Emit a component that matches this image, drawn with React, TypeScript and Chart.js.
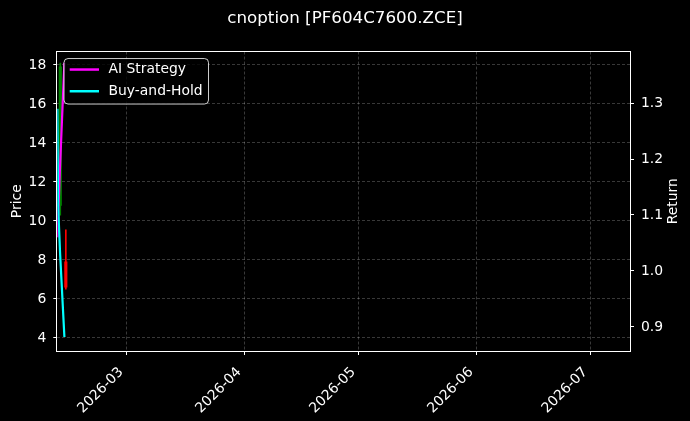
import React, { useEffect, useRef } from 'react';
import { Chart, registerables } from 'chart.js';

Chart.register(...registerables);

// days since 2026-01-01 (UTC), used as the x value
const BASE = Date.UTC(2026, 0, 1);
const toDay = (s: string) => (Date.parse(s + 'Z') - BASE) / 86400000;

const chartTitle = 'cnoption [PF604C7600.ZCE]';

// x axis
const xLimits = ['2026-02-10T18:14', '2026-07-11T06:14'];
const monthTickDates = ['2026-03-01T00:00', '2026-04-01T00:00', '2026-05-01T00:00', '2026-06-01T00:00', '2026-07-01T00:00'];
const monthTickLabels = ['2026-03', '2026-04', '2026-05', '2026-06', '2026-07'];

// left axis (price)
const priceLimits = [3.33, 18.69];
const priceTicks = [4, 6, 8, 10, 12, 14, 16, 18];

// right axis (return)
const returnLimits = [0.857, 1.392];
const returnTicks = [0.9, 1.0, 1.1, 1.2, 1.3];

// candles
const candleTimes = ['2026-02-11T13:00', '2026-02-13T00:00'];
const candleOpen = [10.8, 7.9];
const candleHigh = [18.1, 9.55];
const candleLow = [10.3, 6.5];
const candleClose = [17.9, 6.6];

// return curves
const seriesNames = ['AI Strategy', 'Buy-and-Hold'];
const seriesColors = ['#ff00ff', '#00ffff'];
const aiTimes = ['2026-02-10T19:00', '2026-02-11T10:00', '2026-02-12T02:00', '2026-02-12T15:00'];
const aiReturn = [1.06, 1.175, 1.285, 1.372];
const bhTimes = ['2026-02-10T19:00', '2026-02-10T23:00', '2026-02-11T12:00', '2026-02-12T15:00'];
const bhReturn = [1.29, 1.12, 1.03, 0.882];

const FONT = 'DejaVu Sans';

const overlayPlugin = {
  id: 'overlay',
  afterDraw(chart: any) {
    const { ctx, chartArea: ca } = chart;
    ctx.save();

    // spines
    const l = Math.round(ca.left) - 0.5;
    const t = Math.round(ca.top) - 0.5;
    const r = Math.round(ca.right) + 0.5;
    const b = Math.round(ca.bottom) + 0.5;
    ctx.strokeStyle = '#ffffff';
    ctx.lineWidth = 1;
    ctx.strokeRect(l, t, r - l, b - t);

    // axis titles
    ctx.fillStyle = '#ffffff';
    ctx.font = `13.9px "${FONT}"`;
    ctx.textAlign = 'center';
    ctx.textBaseline = 'middle';
    const midY = (ca.top + ca.bottom) / 2;
    ctx.save();
    ctx.translate(17, midY);
    ctx.rotate(-Math.PI / 2);
    ctx.fillText('Price', 0, 0);
    ctx.restore();
    ctx.save();
    ctx.translate(673.5, midY);
    ctx.rotate(-Math.PI / 2);
    ctx.fillText('Return', 0, 0);
    ctx.restore();

    // legend
    const lx = ca.left + 6.7;
    const ly = ca.top + 7;
    const lw = 144.5;
    const lh = 45.5;
    ctx.beginPath();
    ctx.roundRect(lx, ly, lw, lh, 4);
    ctx.fillStyle = 'rgba(0,0,0,0.8)';
    ctx.fill();
    ctx.strokeStyle = 'rgba(255,255,255,0.8)';
    ctx.lineWidth = 1;
    ctx.stroke();
    seriesNames.forEach((name, i) => {
      const y = ly + 11 + i * 21.7;
      ctx.strokeStyle = seriesColors[i];
      ctx.lineWidth = 2.5;
      ctx.beginPath();
      ctx.moveTo(lx + 5.7, y);
      ctx.lineTo(lx + 35, y);
      ctx.stroke();
      ctx.fillStyle = '#ffffff';
      ctx.textAlign = 'left';
      ctx.fillText(name, lx + 44.5, y);
    });

    ctx.restore();
  },
};

export default function App() {
  const canvasRef = useRef<HTMLCanvasElement>(null);
  const chartRef = useRef<Chart | null>(null);

  useEffect(() => {
    if (!canvasRef.current) return;
    if (chartRef.current) chartRef.current.destroy();
    document.body.style.margin = '0';
    document.body.style.background = '#000';

    const up = candleClose.map((c, i) => c >= candleOpen[i]);
    const candleColors = up.map(u => (u ? '#008000' : '#ff0000'));

    const tickFont = { family: FONT, size: 13.9 };

    chartRef.current = new Chart(canvasRef.current, {
      type: 'line',
      data: {
        datasets: [
          {
            label: seriesNames[0],
            type: 'line',
            data: aiTimes.map((t, i) => ({ x: toDay(t), y: aiReturn[i] })),
            yAxisID: 'y1',
            borderColor: seriesColors[0],
            borderWidth: 2.2,
            pointRadius: 0,
            tension: 0,
            order: 1,
          },
          {
            label: seriesNames[1],
            type: 'line',
            data: bhTimes.map((t, i) => ({ x: toDay(t), y: bhReturn[i] })),
            yAxisID: 'y1',
            borderColor: seriesColors[1],
            borderWidth: 2.2,
            pointRadius: 0,
            tension: 0,
            order: 0,
          },
          {
            label: 'wick',
            type: 'bar',
            data: candleTimes.map((t, i) => ({ x: toDay(t), y: [candleLow[i], candleHigh[i]] })) as any,
            yAxisID: 'y',
            backgroundColor: candleColors,
            barThickness: 1,
            grouped: false,
            order: 3,
          },
          {
            label: 'body',
            type: 'bar',
            data: candleTimes.map((t, i) => ({ x: toDay(t), y: [candleOpen[i], candleClose[i]] })) as any,
            yAxisID: 'y',
            backgroundColor: candleColors,
            barThickness: 2.5,
            grouped: false,
            order: 2,
          },
        ] as any,
      },
      options: {
        responsive: true,
        maintainAspectRatio: false,
        animation: false,
        layout: { padding: 0 },
        plugins: {
          legend: { display: false },
          tooltip: { enabled: false },
          title: {
            display: true,
            text: chartTitle,
            color: '#ffffff',
            font: { family: FONT, size: 16.7, weight: 'normal' },
            padding: { top: 9, bottom: 22.5 },
          },
        },
        scales: {
          x: {
            type: 'linear',
            min: toDay(xLimits[0]),
            max: toDay(xLimits[1]),
            offset: false,
            afterBuildTicks: (s: any) => {
              s.ticks = monthTickDates.map(d => ({ value: toDay(d) }));
            },
            afterFit: (s: any) => {
              s.height = 70;
            },
            ticks: {
              color: '#ffffff',
              font: tickFont,
              autoSkip: false,
              minRotation: 45,
              maxRotation: 45,
              padding: 9,
              labelOffset: -5.5,
              callback: (_v: any, i: number) => monthTickLabels[i],
            },
            grid: {
              color: 'rgba(255,255,255,0.28)',
              lineWidth: 0.8,
              offset: false,
              tickColor: '#ffffff',
              tickLength: 4,
              tickWidth: 1,
              tickBorderDash: [],
            },
            border: { display: false, dash: [3, 2] },
          },
          y: {
            type: 'linear',
            position: 'left',
            min: priceLimits[0],
            max: priceLimits[1],
            afterBuildTicks: (s: any) => {
              s.ticks = priceTicks.map(v => ({ value: v }));
            },
            afterFit: (s: any) => {
              s.width = 57.3;
            },
            ticks: {
              color: '#ffffff',
              font: tickFont,
              padding: 7,
              callback: (v: any) => String(v),
            },
            grid: {
              color: 'rgba(255,255,255,0.28)',
              lineWidth: 0.8,
              tickColor: '#ffffff',
              tickLength: 4,
              tickWidth: 1,
              tickBorderDash: [],
            },
            border: { display: false, dash: [3, 2] },
          },
          y1: {
            type: 'linear',
            position: 'right',
            min: returnLimits[0],
            max: returnLimits[1],
            afterBuildTicks: (s: any) => {
              s.ticks = returnTicks.map(v => ({ value: v }));
            },
            afterFit: (s: any) => {
              s.width = 60;
            },
            ticks: {
              color: '#ffffff',
              font: tickFont,
              padding: 7,
              callback: (v: any) => Number(v).toFixed(1),
            },
            grid: {
              drawOnChartArea: false,
              tickColor: '#ffffff',
              tickLength: 4,
              tickWidth: 1,
            },
            border: { display: false },
          },
        },
      } as any,
      plugins: [overlayPlugin],
    });

    return () => {
      if (chartRef.current) {
        chartRef.current.destroy();
        chartRef.current = null;
      }
    };
  }, []);

  return (
    <div style={{ position: 'fixed', left: 0, top: 0, width: 690, height: 421, background: '#000' }}>
      <canvas ref={canvasRef}></canvas>
    </div>
  );
}
